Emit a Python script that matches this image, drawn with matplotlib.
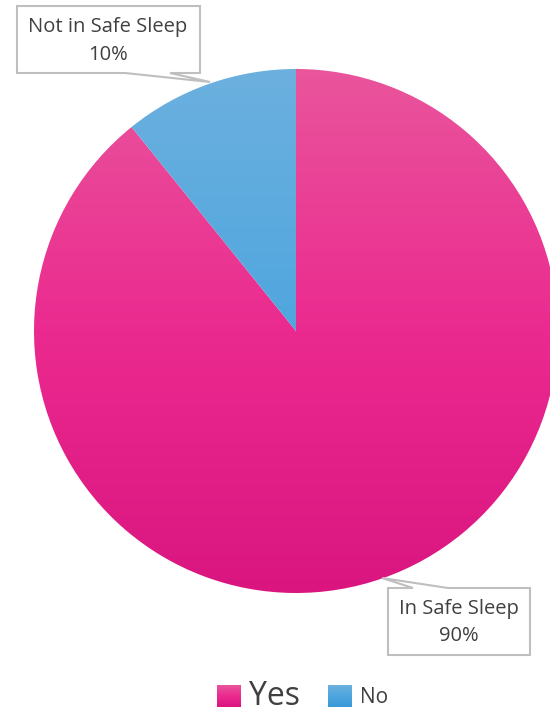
import numpy as np
import matplotlib.pyplot as plt
from matplotlib.patches import Polygon
from matplotlib.colors import LinearSegmentedColormap

plt.rcParams['font.family'] = ['Open Sans', 'DejaVu Sans']

labels = ['Yes', 'No']
names = ['In Safe Sleep', 'Not in Safe Sleep']
values = [89.2, 10.8]
pct_text = ['90%', '10%']
# gradient stops, bottom -> middle -> top
grad_colors = [['#DA1580', '#EB2A8F', '#E9559C'],
               ['#3898D8', '#4FA6DE', '#6CB0DF']]

W, H = 550, 710
fig = plt.figure(figsize=(W / 100, H / 100), dpi=100)
ax = fig.add_axes([0, 0, 1, 1])

cx, cy, r = 296, H - 331, 262
wedges, _ = ax.pie(values, startangle=90, counterclock=False, radius=r,
                   center=(cx, cy), frame=True,
                   wedgeprops=dict(linewidth=0))

grad = np.linspace(0, 1, 256).reshape(-1, 1)
for w, cols in zip(wedges, grad_colors):
    w.set_facecolor('none')
    cmap = LinearSegmentedColormap.from_list('g', cols)
    im = ax.imshow(grad, cmap=cmap, origin='lower', aspect='auto',
                   extent=[cx - r, cx + r, cy - r, cy + r], zorder=1)
    im.set_clip_path(w)


def Y(y):
    return H - y


edge = '#BFBFBF'
txt = '#404040'
fs = 14.5

# callout for "No"
p1 = [(17, 6), (200, 6), (200, 73), (170, 73), (210, 82), (125, 73), (17, 73)]
ax.add_patch(Polygon([(x, Y(y)) for x, y in p1], closed=True, fc='white',
                     ec=edge, lw=1.5, zorder=3))
ax.text(108, Y(27), names[1], ha='center', va='center', fontsize=fs,
        color=txt, zorder=4)
ax.text(108, Y(55), pct_text[1], ha='center', va='center', fontsize=fs,
        color=txt, zorder=4)

# callout for "Yes"
p2 = [(388, 588), (413, 588), (382, 578), (448, 588), (530, 588), (530, 655),
      (388, 655)]
ax.add_patch(Polygon([(x, Y(y)) for x, y in p2], closed=True, fc='white',
                     ec=edge, lw=1.5, zorder=3))
ax.text(459, Y(609), names[0], ha='center', va='center', fontsize=fs,
        color=txt, zorder=4)
ax.text(459, Y(636), pct_text[0], ha='center', va='center', fontsize=fs,
        color=txt, zorder=4)

# legend
leg_x = [217, 328]
leg_sizes = [23, 15]
leg_base = [705, 703]
for i, lab in enumerate(labels):
    cmap = LinearSegmentedColormap.from_list('g', grad_colors[i])
    ax.imshow(grad, cmap=cmap, origin='lower', aspect='auto',
              extent=[leg_x[i], leg_x[i] + 24, Y(707), Y(685)], zorder=2)
    ax.text(leg_x[i] + 32, Y(leg_base[i]), lab, ha='left', va='baseline',
            fontsize=leg_sizes[i], color=txt)

ax.set_xlim(0, W)
ax.set_ylim(0, H)
ax.axis('off')

fig.savefig('out.png', dpi=100)
